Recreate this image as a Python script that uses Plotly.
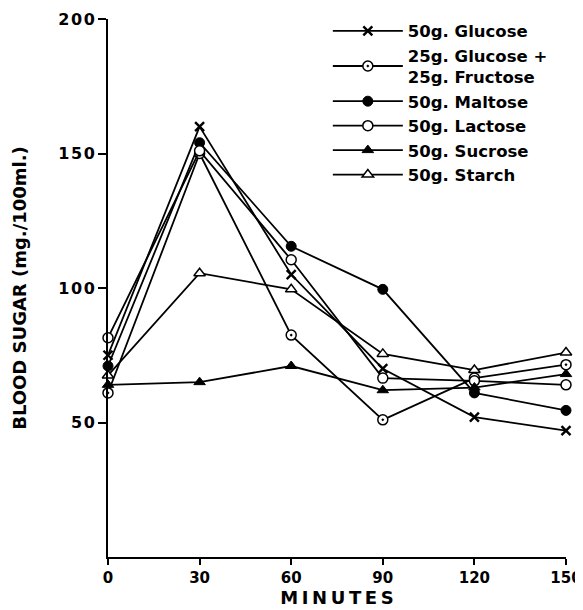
import plotly.graph_objects as go

minutes = [0, 30, 60, 90, 120, 150]
x_tick_labels = ["0", "30", "60", "90", "120", "150"]
y_tick_vals = [50, 100, 150, 200]
y_tick_labels = ["5\u200a0", "1\u200a0\u200a0", "1\u200a5\u200a0", "2\u200a0\u200a0"]

glucose = [75, 160, 105, 70, 52, 47]
glucose_fructose = [61, 150, 82.5, 51, 66.5, 71.5]
maltose = [71, 154, 115.5, 99.5, 61, 54.5]
lactose = [81.5, 151, 110.5, 66.5, 65.5, 64]
sucrose = [64, 65, 71, 62, 63, 68]
starch = [67.5, 105.5, 99.5, 75.5, 69.5, 76]

names = ["50g. Glucose", "25g. Glucose +<br>25g. Fructose", "50g. Maltose",
         "50g. Lactose", "50g. Sucrose", "50g. Starch"]

FONT = "DejaVu Sans"
fig = go.Figure()

styles = [
    (glucose, dict(symbol="x-thin", size=9, color="black", line=dict(color="black", width=2.4))),
    (glucose_fructose, dict(symbol="circle-dot", size=10, color="white", line=dict(color="black", width=1.5))),
    (maltose, dict(symbol="circle", size=10, color="black", line=dict(color="black", width=1))),
    (lactose, dict(symbol="circle", size=10, color="white", line=dict(color="black", width=1.5))),
    (sucrose, dict(symbol="triangle-up", size=10, color="black", line=dict(color="black", width=1))),
    (starch, dict(symbol="triangle-up", size=10, color="white", line=dict(color="black", width=1.5))),
]

for (vals, mk), nm in zip(styles, names):
    fig.add_trace(go.Scatter(
        x=minutes, y=vals, mode="lines+markers", name=nm,
        line=dict(color="black", width=1.8), marker=mk, cliponaxis=False,
    ))

# page body has an 8px margin, so the figure is sized/placed to compensate
fig.update_layout(
    width=583, height=602,
    margin=dict(l=100, r=25, t=11, b=53, autoexpand=False),
    paper_bgcolor="white", plot_bgcolor="white",
    font=dict(family=FONT, color="black", size=15),
    showlegend=True,
    legend=dict(
        x=0.48, y=1.01, xanchor="left", yanchor="top",
        bgcolor="rgba(0,0,0,0)", itemwidth=70,
        font=dict(family=FONT, size=16.5, color="black", weight="bold"),
        tracegroupgap=0,
    ),
    xaxis=dict(
        range=[0, 150], tickvals=minutes, ticktext=x_tick_labels, automargin=False,
        ticklabeloverflow="allow",
        showgrid=False, zeroline=False, showline=True, linecolor="black", linewidth=2,
        ticks="outside", ticklen=6, tickwidth=2, tickcolor="black",
        tickfont=dict(family=FONT, size=15, weight="bold"),
        title=dict(text="M\u2009I\u2009N\u2009U\u2009T\u2009E\u2009S", font=dict(family=FONT, size=18, weight="bold"), standoff=2),
    ),
    yaxis=dict(
        range=[0, 200], tickvals=y_tick_vals, ticktext=y_tick_labels, automargin=False,
        ticklabeloverflow="allow",
        showgrid=False, zeroline=False, showline=True, linecolor="black", linewidth=2,
        ticks="outside", ticklen=8, tickwidth=2, tickcolor="black",
        tickfont=dict(family=FONT, size=16, weight="bold"),
        title=dict(text="BLOOD SUGAR (mg./100ml.)", font=dict(family=FONT, size=18, weight="bold"), standoff=27),
    ),
)

# hide scrollbars so the full 583px window width is visible
hide_scroll = ("document.documentElement.style.overflow='hidden';"
               "document.body.style.overflow='hidden';")

fig.write_html("out.html", post_script=hide_scroll)
